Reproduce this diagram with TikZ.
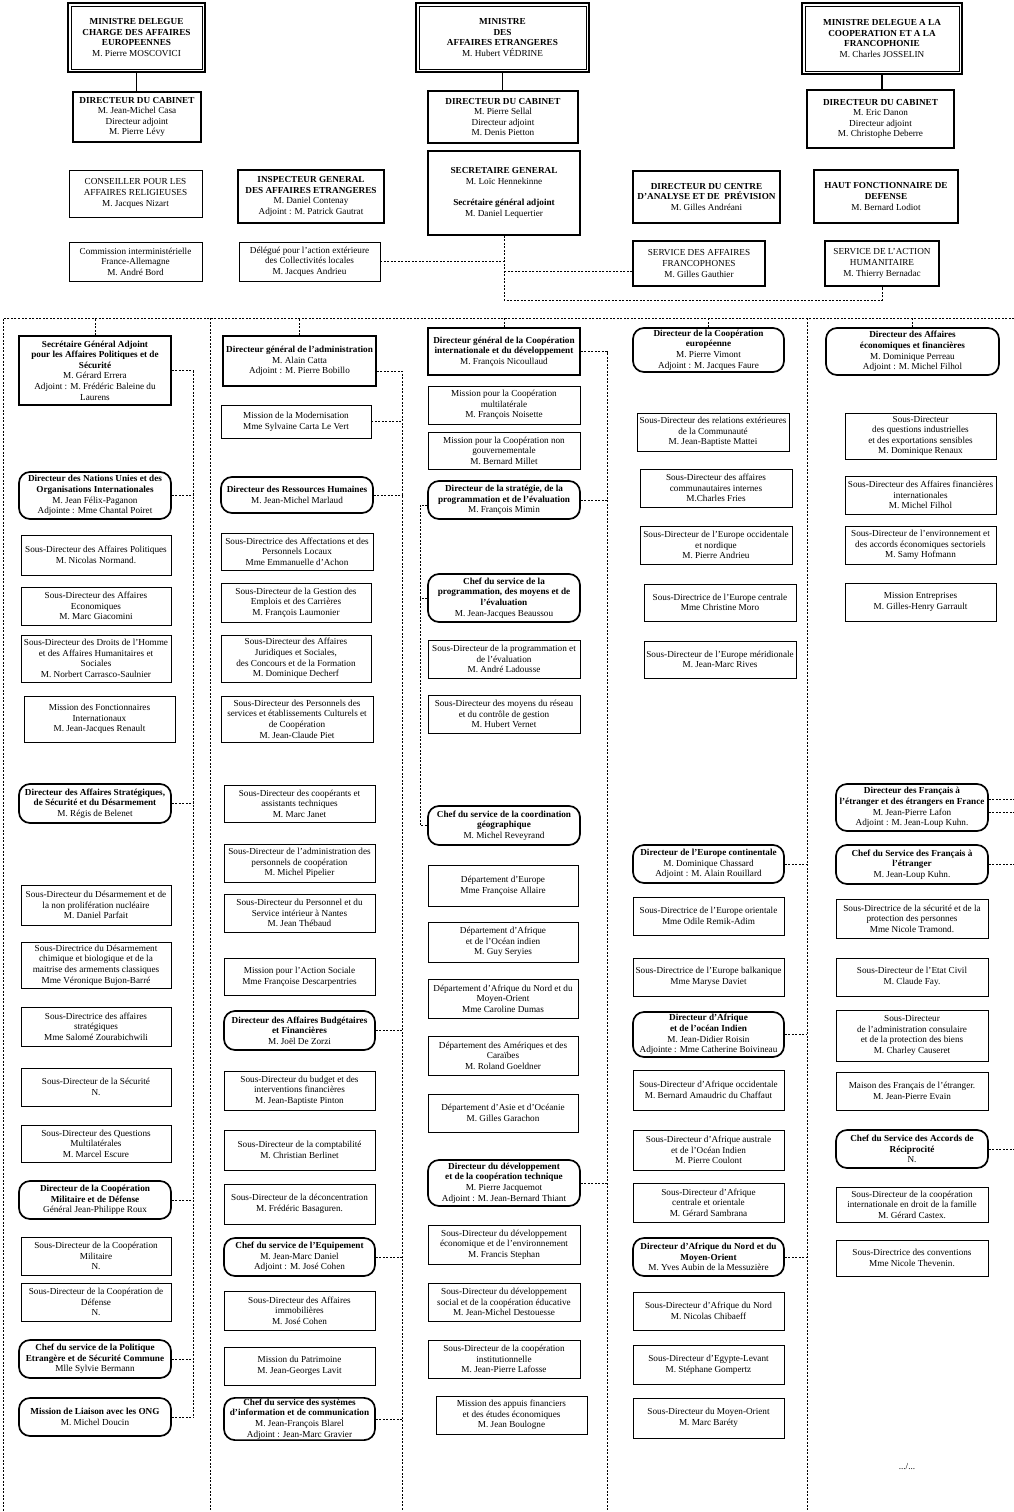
\documentclass[tikz,border=0pt]{standalone}
\usepackage{fontspec}
\setmainfont{Liberation Serif}
\newcommand\fs{\fontsize{9.2}{10.6}\selectfont}
\def\orgbox[#1](#2)(#3:#4:#5:#6)#7{\node[#1,minimum width={(#5-#3)*1pt},minimum height={(#6-#4)*1pt}] (#2) at ({(#3+#5)/2},{(#4+#6)/2}) {#7};}
\tikzset{
  unit/.style={draw,line width=0.6pt,align=center,inner sep=1pt,font=\fs},
  mid/.style={unit,line width=1.2pt},
  head/.style={unit,line width=1.7pt},
  dir/.style={unit,line width=1.7pt,rounded corners=11pt},
  link/.style={line width=0.6pt,dash pattern=on 2pt off 1.5pt},
  tie/.style={line width=1.8pt}
}
\begin{document}
\begin{tikzpicture}[x=1pt,y=-1pt]
\useasboundingbox (0,0) rectangle (1014,1512);
%%%%% MINISTRES %%%%%
\orgbox[head](m1)(68:3:205:72){\textbf{MINISTRE DELEGUE}\\\textbf{CHARGE DES AFFAIRES}\\\textbf{EUROPEENNES}\\M. Pierre MOSCOVICI}
\orgbox[head](m2)(416:3:589:72){\textbf{MINISTRE}\\\textbf{DES}\\\textbf{AFFAIRES ETRANGERES}\\M. Hubert VÉDRINE}
\orgbox[head](m3)(802:3:962:74){\textbf{MINISTRE DELEGUE A LA}\\\textbf{COOPERATION ET A LA}\\\textbf{FRANCOPHONIE}\\M. Charles JOSSELIN}
\foreach \n in {m1,m2,m3}
  \draw[line width=0.6pt] ([shift={(4,4)}]\n.north west) rectangle ([shift={(-4,-4)}]\n.south east);

\orgbox[head](dc1)(73:92:201:142){\textbf{DIRECTEUR DU CABINET}\\M. Jean-Michel Casa\\Directeur adjoint\\M. Pierre Lévy}
\orgbox[head](dc2)(428:91:578:143){\textbf{DIRECTEUR DU CABINET}\\M. Pierre Sellal\\Directeur adjoint\\M. Denis Pietton}
\orgbox[head](dc3)(807:90:954:148){\textbf{DIRECTEUR DU CABINET}\\M. Eric Danon\\Directeur adjoint\\M. Christophe Deberre}
\draw[tie] (m1.south) -- (m1.south |- dc1.north);
\draw[tie] (m2.south) -- (m2.south |- dc2.north);
\draw[tie] (m3.south) -- (m3.south |- dc3.north);

\orgbox[unit](cons)(69:170:202:217){CONSEILLER POUR LES\\AFFAIRES RELIGIEUSES\\M. Jacques Nizart}
\orgbox[unit](comm)(69:242:202:281){Commission interministérielle\\France-Allemagne\\M. André Bord}
\orgbox[head](insp)(238:170:384:223){\textbf{INSPECTEUR GENERAL}\\\textbf{DES AFFAIRES ETRANGERES}\\M. Daniel Contenay\\Adjoint : M. Patrick Gautrat}
\orgbox[unit](deleg)(239:242:380:281){Délégué pour l'action extérieure\\des Collectivités locales\\M. Jacques Andrieu}
\orgbox[head](sg)(428:151:580:235){\textbf{SECRETAIRE GENERAL}\\M. Loïc Hennekinne\\[10.5pt]\textbf{Secrétaire général adjoint}\\M. Daniel Lequertier}
\orgbox[head](cap)(633:171:780:223){\textbf{DIRECTEUR DU CENTRE}\\\textbf{D'ANALYSE ET DE\enspace PRÉVISION}\\M. Gilles Andréani}
\orgbox[head](hfd)(814:170:958:223){\textbf{HAUT FONCTIONNAIRE DE}\\\textbf{DEFENSE}\\M. Bernard Lodiot}
\orgbox[mid](saf)(633:241:765:286){SERVICE DES AFFAIRES\\FRANCOPHONES\\M. Gilles Gauthier}
\orgbox[mid](sah)(825:241:939:286){SERVICE DE L'ACTION\\HUMANITAIRE\\M. Thierry Bernadac}

\draw[link] (sg.south) -- ++(0,64) -| (sah.south);
\draw[link] (deleg.east) -- (deleg.east -| sg.south);
\draw[link] ([yshift=-8pt]saf.west) -- ([yshift=-8pt]saf.west -| sg.south);

%%%%% COLONNE 1 %%%%%
\orgbox[head](sga)(19:336:171:405){\textbf{Secrétaire Général Adjoint}\\\textbf{pour les Affaires Politiques et de}\\\textbf{Sécurité}\\M. Gérard Errera\\Adjoint : M. Frédéric Baleine du\\Laurens}
\orgbox[dir](dnu)(19:472:171:519){\textbf{Directeur des Nations Unies et des}\\\textbf{Organisations Internationales}\\M. Jean Félix-Paganon\\Adjointe : Mme Chantal Poiret}
\orgbox[unit](sdpol)(21:535:171:575){Sous-Directeur des Affaires Politiques\\M. Nicolas Normand.}
\orgbox[unit](sdeco)(21:587:171:625){Sous-Directeur des Affaires\\Economiques\\M. Marc Giacomini}
\orgbox[unit](sddh)(21:635:171:682){Sous-Directeur des Droits de l'Homme\\et des Affaires Humanitaires et\\Sociales\\M. Norbert Carrasco-Saulnier}
\orgbox[unit](mfi)(24:696:175:742){Mission des Fonctionnaires\\Internationaux\\M. Jean-Jacques Renault}
\orgbox[dir](das)(19:784:171:823){\textbf{Directeur des Affaires Stratégiques,}\\\textbf{de Sécurité et du Désarmement}\\M. Régis de Belenet}
\orgbox[unit](sdnuc)(21:885:171:925){Sous-Directeur du Désarmement et de\\la non prolifération nucléaire\\M. Daniel Parfait}
\orgbox[unit](sdchim)(21:942:171:988){Sous-Directrice du Désarmement\\chimique et biologique et de  la\\maitrise des armements classiques\\Mme Véronique Bujon-Barré}
\orgbox[unit](sdstrat)(21:1007:171:1046){Sous-Directrice des affaires\\stratégiques\\Mme Salomé Zourabichwili}
\orgbox[unit](sdsec)(21:1068:171:1106){Sous-Directeur de la Sécurité\\N.}
\orgbox[unit](sdqm)(21:1125:171:1162){Sous-Directeur des Questions\\Multilatérales\\M. Marcel Escure}
\orgbox[dir](dcmd)(19:1181:171:1219){\textbf{Directeur de la Coopération}\\\textbf{Militaire et de Défense}\\Général Jean-Philippe Roux}
\orgbox[unit](sdcm)(21:1237:171:1275){Sous-Directeur de la Coopération\\Militaire\\N.}
\orgbox[unit](sdcd)(21:1283:171:1321){Sous-Directeur de  la Coopération de\\Défense\\N.}
\orgbox[dir](pesc)(19:1340:171:1378){\textbf{Chef du service de la Politique}\\\textbf{Etrangère et de Sécurité Commune}\\Mlle Sylvie Bermann}
\orgbox[dir](ong)(19:1398:171:1436){\textbf{Mission de Liaison avec les ONG}\\M. Michel Doucin}

%%%%% COLONNE 2 %%%%%
\orgbox[head](dga)(223:336:376:386){\textbf{Directeur général de l'administration}\\M. Alain Catta\\Adjoint : M. Pierre Bobillo}
\orgbox[unit](mmod)(221:405:371:438){Mission de la Modernisation\\Mme Sylvaine Carta Le Vert}
\orgbox[dir](drh)(221:477:373:513){\textbf{Directeur des Ressources Humaines}\\M. Jean-Michel Marlaud}
\orgbox[unit](sdaff)(221:533:373:570){Sous-Directrice des Affectations et des\\Personnels Locaux\\Mme Emmanuelle d'Achon}
\orgbox[unit](sdgec)(221:583:371:622){Sous-Directeur de la Gestion des\\Emplois et des Carrières\\M. François Laumonier}
\orgbox[unit](sdajs)(221:635:371:682){Sous-Directeur des Affaires\\Juridiques et Sociales,\\des Concours et de la Formation\\M. Dominique Decherf}
\orgbox[unit](sdpsc)(221:696:373:742){Sous-Directeur des Personnels des\\services et établissements Culturels et\\de Coopération\\M. Jean-Claude Piet}
\orgbox[unit](sdcat)(224:785:375:822){Sous-Directeur des coopérants et\\assistants techniques\\M. Marc Janet}
\orgbox[unit](sdapc)(224:844:375:882){Sous-Directeur de l'administration des\\personnels de coopération\\M. Michel Pipelier}
\orgbox[unit](sdpsi)(224:894:375:932){Sous-Directeur du Personnel et du\\Service intérieur à Nantes\\M. Jean Thébaud}
\orgbox[unit](mas)(224:958:375:995){Mission pour l'Action Sociale\\Mme Françoise Descarpentries}
\orgbox[dir](dabf)(224:1011:375:1050){\textbf{Directeur des Affaires Budgétaires}\\\textbf{et Financières}\\M. Joël De Zorzi}
\orgbox[unit](sdbud)(224:1071:375:1110){Sous-Directeur du budget et des\\interventions financières\\M. Jean-Baptiste Pinton}
\orgbox[unit](sdcpt)(224:1130:375:1170){Sous-Directeur de la comptabilité\\M. Christian Berlinet}
\orgbox[unit](sddec)(224:1184:375:1224){Sous-Directeur de la déconcentration\\M. Frédéric Basaguren.}
\orgbox[dir](equip)(224:1238:375:1276){\textbf{Chef du service de l'Equipement}\\M. Jean-Marc Daniel\\Adjoint : M. José Cohen}
\orgbox[unit](sdimm)(224:1291:375:1330){Sous-Directeur des Affaires\\immobilières\\M. José Cohen}
\orgbox[unit](mpat)(224:1347:375:1385){Mission du Patrimoine\\M. Jean-Georges Lavit}
\orgbox[dir](sic)(224:1398:375:1440){\textbf{Chef du service des systèmes}\\\textbf{d'information et de communication}\\M. Jean-François Blarel\\Adjoint : Jean-Marc Gravier}

%%%%% COLONNE 3 %%%%%
\orgbox[head](dgcid)(428:328:580:375){\textbf{Directeur général de la Coopération}\\\textbf{internationale et du développement}\\M. François Nicoullaud}
\orgbox[unit](mcm)(428:386:580:424){Mission pour la Coopération\\multilatérale\\M. François Noisette}
\orgbox[unit](mcng)(428:432:580:469){Mission pour la Coopération non\\gouvernementale\\M. Bernard Millet}
\orgbox[dir](dspe)(428:481:580:519){\textbf{Directeur de la stratégie, de la}\\\textbf{programmation et de l'évaluation}\\M. François Mimin}
\orgbox[dir](cspme)(428:574:580:622){\textbf{Chef du service de la}\\\textbf{programmation, des moyens et de}\\\textbf{l'évaluation}\\M. Jean-Jacques Beaussou}
\orgbox[unit](sdpe)(428:640:580:678){Sous-Directeur de la programmation  et\\de l'évaluation\\M. André Ladousse}
\orgbox[unit](sdmr)(428:695:580:733){Sous-Directeur des moyens du réseau\\et du contrôle de gestion\\M. Hubert Vernet}
\orgbox[dir](csg)(428:806:580:845){\textbf{Chef du service de la coordination}\\\textbf{géographique}\\M. Michel Reveyrand}
\orgbox[unit](deur)(428:865:578:906){Département d'Europe\\Mme Françoise Allaire}
\orgbox[unit](dafr)(428:922:578:962){Département d'Afrique\\et de l'Océan indien\\M. Guy Seryies}
\orgbox[unit](danmo)(428:979:578:1018){Département d'Afrique du Nord et du\\Moyen-Orient\\Mme Caroline Dumas}
\orgbox[unit](dam)(428:1036:578:1075){Département des Amériques et des\\Caraïbes\\M. Roland Goeldner}
\orgbox[unit](dasi)(428:1094:578:1132){Département d'Asie et d'Océanie\\M. Gilles Garachon}
\orgbox[dir](ddct)(428:1160:580:1206){\textbf{Directeur du développement}\\\textbf{et de la coopération technique}\\M. Pierre Jacquemot\\Adjoint : M. Jean-Bernard Thiant}
\orgbox[unit](sddee)(428:1225:580:1264){Sous-Directeur du développement\\économique et de l'environnement\\M. Francis Stephan}
\orgbox[unit](sddsc)(428:1283:580:1321){Sous-Directeur du développement\\social et de la coopération éducative\\M. Jean-Michel Destouesse}
\orgbox[unit](sdci)(428:1340:580:1378){Sous-Directeur de la coopération\\institutionnelle\\M. Jean-Pierre Lafosse}
\orgbox[unit](mafe)(436:1396:587:1434){Mission des appuis financiers\\et des études économiques\\M. Jean Boulogne}

%%%%% COLONNE 4 %%%%%
\orgbox[dir](dce)(633:328:784:372){\textbf{Directeur de la Coopération}\\\textbf{européenne}\\M. Pierre Vimont\\Adjoint : M. Jacques Faure}
\orgbox[unit](sdrec)(637:413:789:451){Sous-Directeur des relations extérieures\\de la Communauté\\M. Jean-Baptiste Mattei}
\orgbox[unit](sdaci)(640:469:792:507){Sous-Directeur des affaires\\communautaires internes\\M.Charles Fries}
\orgbox[unit](sdeon)(640:526:792:564){Sous-Directeur de l'Europe occidentale\\et nordique\\M. Pierre Andrieu}
\orgbox[unit](sdec)(644:584:796:621){Sous-Directrice de l'Europe centrale\\Mme Christine Moro}
\orgbox[unit](sdem)(644:641:796:678){Sous-Directeur de l'Europe méridionale\\M. Jean-Marc Rives}
\orgbox[dir](deco)(633:845:784:883){\textbf{Directeur de l'Europe continentale}\\M. Dominique Chassard\\Adjoint : M. Alain Rouillard}
\orgbox[unit](sdeo)(633:897:784:935){Sous-Directrice de l'Europe orientale\\Mme Odile Remik-Adim}
\orgbox[unit](sdeb)(633:958:784:996){Sous-Directrice de l'Europe balkanique\\Mme Maryse Daviet}
\orgbox[dir](daoi)(633:1012:784:1057){\textbf{Directeur d'Afrique}\\\textbf{et de l'océan Indien}\\M. Jean-Didier Roisin\\Adjointe : Mme Catherine Boivineau}
\orgbox[unit](sdao)(633:1070:784:1110){Sous-Directeur d'Afrique occidentale\\M. Bernard Amaudric du Chaffaut}
\orgbox[unit](sdaa)(633:1130:784:1170){Sous-Directeur d'Afrique australe\\et de l'Océan Indien\\M. Pierre Coulont}
\orgbox[unit](sdaco)(633:1183:784:1222){Sous-Directeur d'Afrique\\centrale et orientale\\M. Gérard Sambrana}
\orgbox[dir](danm)(633:1238:784:1276){\textbf{Directeur d'Afrique du Nord et du}\\\textbf{Moyen-Orient}\\M. Yves Aubin de la Messuzière}
\orgbox[unit](sdan)(633:1292:784:1330){Sous-Directeur d'Afrique du Nord\\M. Nicolas Chibaeff}
\orgbox[unit](sdel)(633:1345:784:1384){Sous-Directeur d'Egypte-Levant\\M. Stéphane Gompertz}
\orgbox[unit](sdmo)(633:1398:784:1438){Sous-Directeur du Moyen-Orient\\M. Marc Baréty}

%%%%% COLONNE 5 %%%%%
\orgbox[dir](daef)(826:328:999:375){\textbf{Directeur des Affaires}\\\textbf{économiques et financières}\\M. Dominique  Perreau\\Adjoint : M. Michel Filhol}
\orgbox[unit](sdqi)(845:413:996:459){Sous-Directeur\\des questions industrielles\\et des exportations sensibles\\M. Dominique Renaux}
\orgbox[unit](sdafi)(845:476:996:514){Sous-Directeur des Affaires financières\\internationales\\M. Michel Filhol}
\orgbox[unit](sdenv)(845:526:996:564){Sous-Directeur de l'environnement et\\des accords économiques sectoriels\\M. Samy Hofmann}
\orgbox[unit](ment)(845:583:996:621){Mission Entreprises\\M. Gilles-Henry Garrault}
\orgbox[dir](dfae)(836:784:988:831){\textbf{Directeur des Français à}\\\textbf{l'étranger et des étrangers en France}\\M. Jean-Pierre Lafon\\Adjoint : M. Jean-Loup Kuhn.}
\orgbox[dir](csfe)(836:845:988:884){\textbf{Chef du Service des Français à}\\\textbf{l'étranger}\\M. Jean-Loup Kuhn.}
\orgbox[unit](sdsp)(836:899:988:938){Sous-Directrice de la sécurité et de la\\protection des personnes\\Mme Nicole Tramond.}
\orgbox[unit](sdetat)(836:958:988:996){Sous-Directeur de l'Etat Civil\\M. Claude Fay.}
\orgbox[unit](sdacp)(836:1010:988:1061){Sous-Directeur\\de l'administration consulaire\\et de la protection des biens\\M. Charley Causeret}
\orgbox[unit](mfe)(836:1072:988:1110){Maison des Français de l'étranger.\\M. Jean-Pierre Evain}
\orgbox[dir](csar)(836:1130:988:1168){\textbf{Chef du Service des Accords de}\\\textbf{Réciprocité}\\N.}
\orgbox[unit](sdcidf)(836:1187:988:1222){Sous-Directeur de la coopération\\internationale en droit de la famille\\M. Gérard Castex.}
\orgbox[unit](sdconv)(836:1240:988:1276){Sous-Directrice des conventions\\Mme Nicole Thevenin.}
\node[font=\fs] (suite) at (907,1467) {.../...};

%%%%% LIAISONS %%%%%
\coordinate (top) at (3,318);
\coordinate (topR) at (1014,318);
\coordinate (bot) at (0,1511);
\coordinate (c1) at (193,0);
\coordinate (c2l) at (210,318);
\coordinate (c2) at (402,0);
\coordinate (c3b) at (420,0);
\coordinate (c3) at (607,0);
\coordinate (c4) at (807,318);
\coordinate (c5) at (1014,0);

\draw[link] (topR) -- (top) -- (top |- bot);
\draw[link] (c2l) -- (c2l |- bot);
\draw[link] (c4) -- (c4 |- bot);
\foreach \n in {sga,dga,dgcid,dce,daef}
  \draw[link] (\n.north) -- (\n.north |- top);

\foreach \n in {sga,dnu,das,dcmd,pesc,ong}
  \draw[link] (\n.east) -- (\n.east -| c1);
\draw[link] (sga.east -| c1) -- (ong.east -| c1);

\draw[link] ([yshift=-10pt]dga.east) -- ([yshift=-10pt]dga.east -| c2) -- (c2 |- bot);
\foreach \n in {mmod,drh,dabf,equip,sic}
  \draw[link] (\n.east) -- (\n.east -| c2);

\draw[link] (dgcid.east) -- (dgcid.east -| c3) -- (c3 |- bot);
\foreach \n in {dspe,ddct}
  \draw[link] (\n.east) -- (\n.east -| c3);
\draw[link] ([yshift=-5pt]dspe.west) -| (c3b |- csg.west) -- (csg.west);
\draw[link] (cspme.west) -- (cspme.west -| c3b);

\foreach \n in {deco,daoi,danm}
  \draw[link] (\n.east) -- (\n.east -| c4);

\draw[link] ([yshift=8pt]dfae.east) -- ([yshift=8pt]dfae.east -| c5);
\draw[link] ([yshift=-5pt]dfae.east) -- ([yshift=-5pt]dfae.east -| c5);
\foreach \n in {csfe,csar}
  \draw[link] (\n.east) -- (\n.east -| c5);
\end{tikzpicture}
\end{document}
